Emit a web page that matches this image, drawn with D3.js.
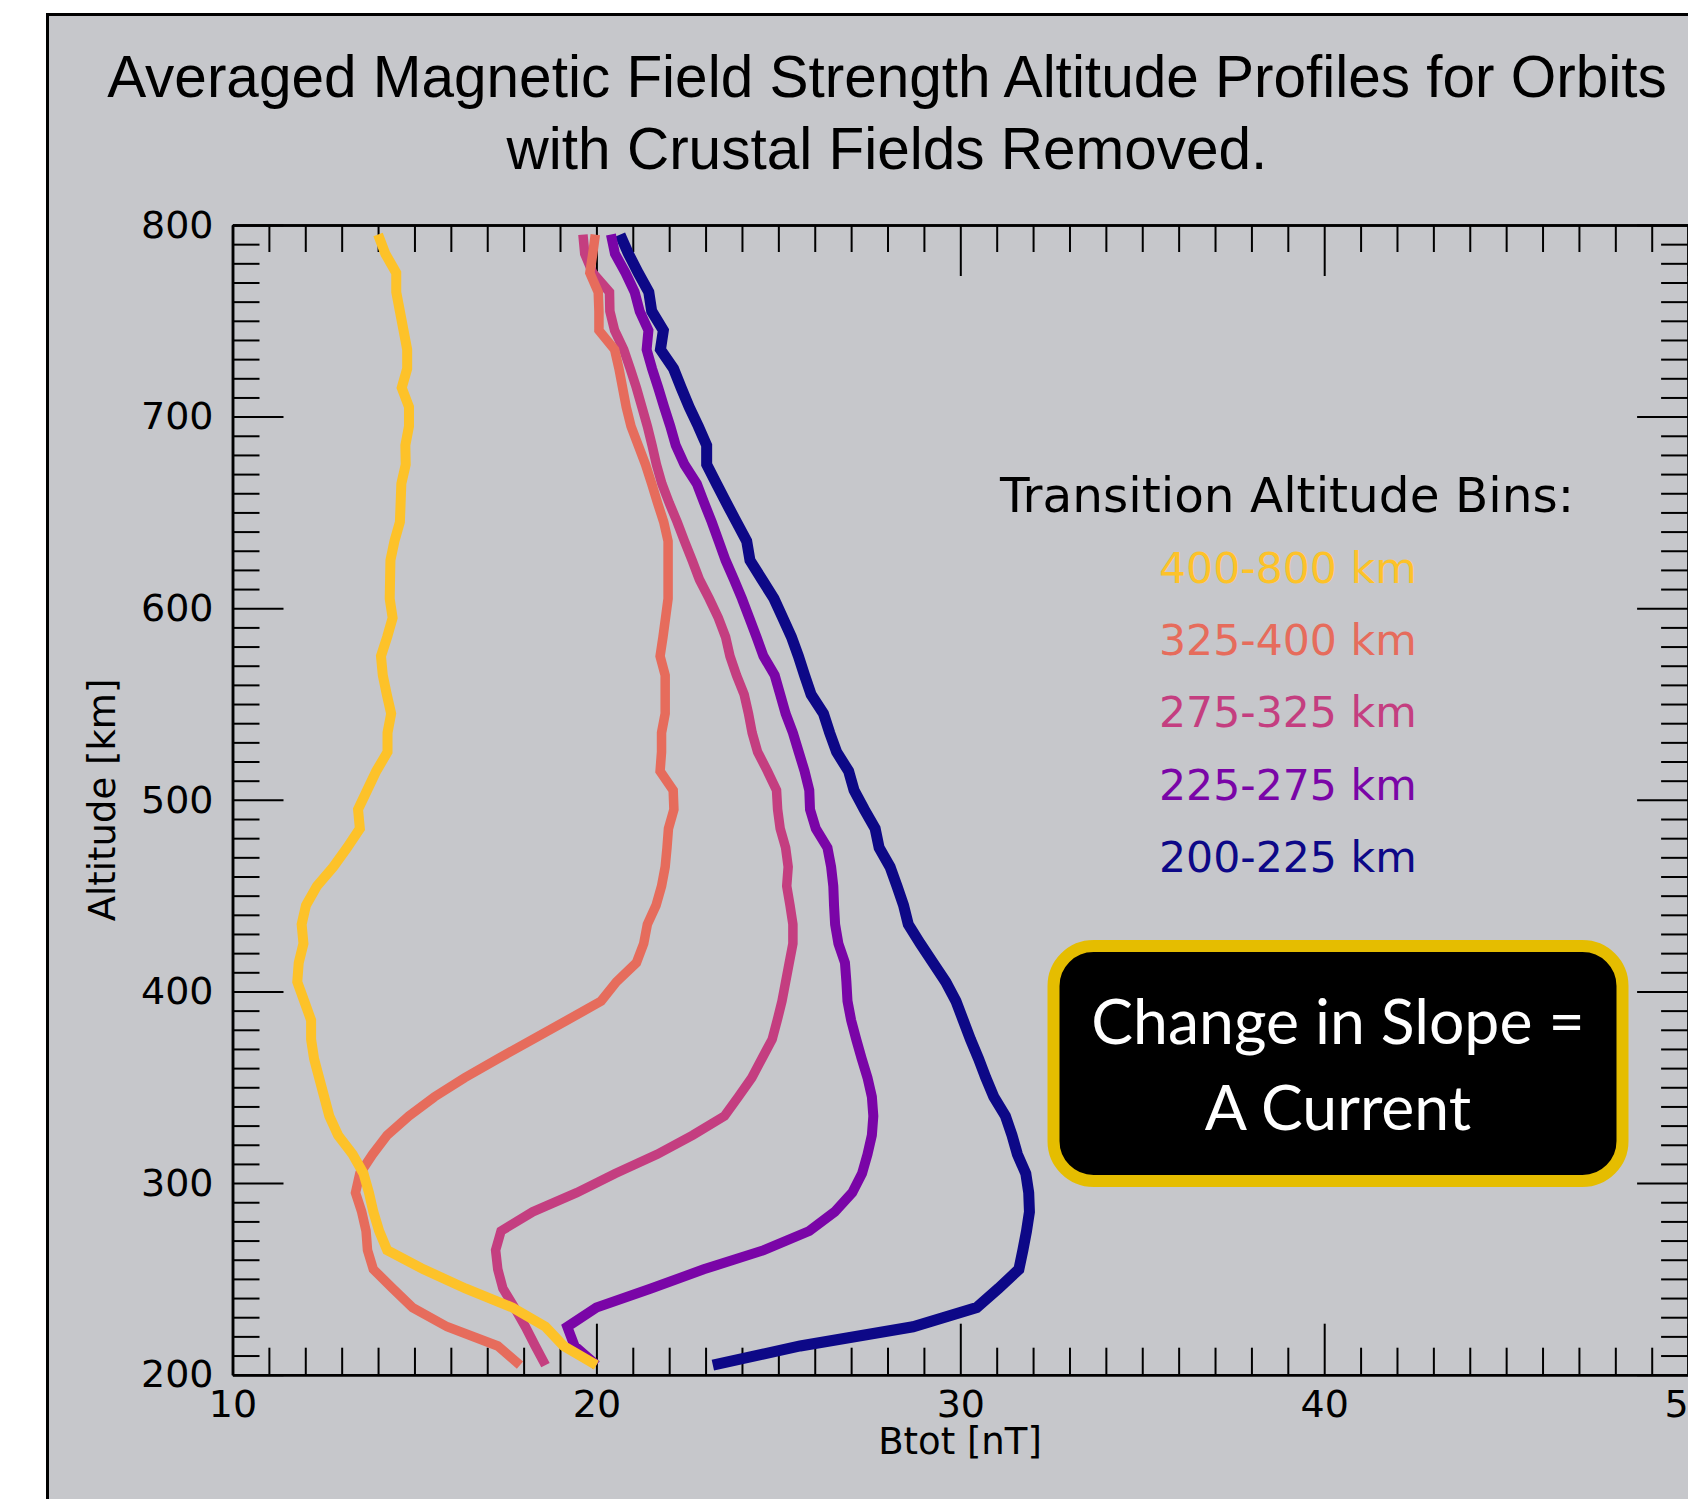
<!DOCTYPE html>
<html>
<head>
<meta charset="utf-8">
<script src="https://cdn.jsdelivr.net/npm/d3@7"></script>
<style>
  html, body { margin: 0; padding: 0; background: #ffffff; }
  svg { display: block; }
</style>
</head>
<body>
<div id="chart"></div>
<script>
// altitude samples (km), top to bottom
const altitudeKm = [795, 785, 775, 765, 755, 745, 735, 725, 715, 705, 695, 685, 675, 665, 655, 645, 635, 625, 615, 605,
  595, 585, 575, 565, 555, 545, 535, 525, 515, 505, 495, 485, 475, 465, 455, 445, 435, 425, 415, 405,
  395, 385, 375, 365, 355, 345, 335, 325, 315, 305, 295, 285, 275, 265, 255, 245, 235, 225, 215, 205];

// averaged Btot (nT) per transition altitude bin
const bin400to800 = [14.0, 14.2, 14.5, 14.5, 14.6, 14.7, 14.8, 14.8, 14.65, 14.85, 14.85, 14.75, 14.76, 14.64, 14.62, 14.6, 14.45, 14.34, 14.33, 14.32,
  14.4, 14.25, 14.08, 14.13, 14.24, 14.36, 14.26, 14.26, 13.95, 13.7, 13.45, 13.5, 13.15, 12.77, 12.32, 12.02, 11.9, 11.95, 11.82, 11.78,
  11.97, 12.16, 12.16, 12.24, 12.38, 12.52, 12.66, 12.9, 13.3, 13.6, 13.75, 13.87, 14.03, 14.25, 15.25, 16.4, 17.7, 18.6, 19.1, 20.0];
const bin325to400 = [19.97, 19.9, 19.82, 20.05, 20.07, 20.07, 20.5, 20.62, 20.72, 20.82, 20.95, 21.15, 21.35, 21.52, 21.68, 21.85, 21.97, 21.97, 21.97, 21.97,
  21.9, 21.83, 21.75, 21.89, 21.89, 21.89, 21.79, 21.79, 21.75, 22.11, 22.13, 21.98, 21.94, 21.89, 21.79, 21.64, 21.4, 21.3, 21.1, 20.55,
  20.13, 19.2, 18.25, 17.3, 16.38, 15.55, 14.85, 14.25, 13.85, 13.5, 13.38, 13.55, 13.67, 13.71, 13.87, 14.4, 14.95, 15.9, 17.29, 17.9];
const bin275to325 = [19.63, 19.68, 19.9, 20.36, 20.37, 20.5, 20.75, 20.93, 21.1, 21.25, 21.4, 21.53, 21.65, 21.8, 22.0, 22.22, 22.42, 22.63, 22.83, 23.1,
  23.35, 23.55, 23.67, 23.85, 24.06, 24.18, 24.28, 24.43, 24.7, 24.95, 24.98, 25.05, 25.2, 25.27, 25.23, 25.32, 25.4, 25.4, 25.3, 25.2,
  25.1, 24.97, 24.83, 24.55, 24.27, 23.9, 23.52, 22.65, 21.67, 20.52, 19.46, 18.25, 17.38, 17.23, 17.29, 17.43, 17.75, 18.05, 18.32, 18.6];
const bin225to275 = [20.4, 20.51, 20.8, 21.05, 21.19, 21.43, 21.38, 21.53, 21.7, 21.86, 22.03, 22.18, 22.42, 22.76, 22.96, 23.17, 23.36, 23.55, 23.78, 24.0,
  24.2, 24.4, 24.59, 24.9, 25.05, 25.2, 25.4, 25.56, 25.72, 25.85, 25.87, 26.03, 26.35, 26.45, 26.51, 26.53, 26.56, 26.65, 26.83, 26.87,
  26.9, 27.0, 27.14, 27.29, 27.45, 27.57, 27.61, 27.57, 27.45, 27.3, 27.03, 26.55, 25.85, 24.6, 22.95, 21.5, 20.0, 19.2, 19.4, 20.0];
const bin200to225 = [20.65, 20.88, 21.15, 21.44, 21.52, 21.84, 21.76, 22.12, 22.33, 22.55, 22.8, 23.03, 23.03, 23.3, 23.57, 23.85, 24.13, 24.22, 24.55, 24.88,
  25.12, 25.36, 25.55, 25.72, 25.9, 26.24, 26.41, 26.6, 26.93, 27.08, 27.36, 27.66, 27.77, 28.07, 28.26, 28.44, 28.57, 28.9, 29.25, 29.6,
  29.88, 30.08, 30.28, 30.5, 30.7, 30.92, 31.24, 31.42, 31.57, 31.8, 31.88, 31.9, 31.82, 31.72, 31.61, 31.05, 30.45, 28.7, 25.6, 23.2];

const binLabels = ['400-800 km', '325-400 km', '275-325 km', '225-275 km', '200-225 km'];
const binColors = ['#fdc229', '#e66c5c', '#c43e80', '#7a05a7', '#0d0887'];
const binWidths = [10, 9.5, 9.5, 10, 11];
const binValues = [bin400to800, bin325to400, bin275to325, bin225to275, bin200to225];

const xTicks = [10, 20, 30, 40, 50];
const yTicks = [200, 300, 400, 500, 600, 700, 800];

const titleLines = ['Averaged Magnetic Field Strength Altitude Profiles for Orbits', 'with Crustal Fields Removed.'];
const noteLines = ['Change in Slope =', 'A Current'];

const w = 1688;
const h = 1499;
const plotLeft = 232.5;
const plotRight = 1688.1;
const plotTop = 225;
const plotBottom = 1374.7;

const svg = d3
  .select('#chart')
  .append('svg')
  .attr('width', w)
  .attr('height', h);

svg.append('rect').attr('width', w).attr('height', h).attr('fill', '#ffffff');

// grey slide frame
svg
  .append('rect')
  .attr('x', 47.5)
  .attr('y', 14.5)
  .attr('width', w + 20)
  .attr('height', h + 20)
  .attr('fill', '#c6c7cb')
  .attr('stroke', '#000')
  .attr('stroke-width', 3);

// title
svg
  .selectAll('text.title')
  .data(titleLines)
  .enter()
  .append('text')
  .attr('class', 'title')
  .attr('x', 887)
  .attr('y', (d, i) => 97 + i * 72)
  .attr('text-anchor', 'middle')
  .style('font-family', '"Liberation Sans", Arial, sans-serif')
  .style('font-size', '58.5px')
  .attr('fill', '#000')
  .text((d) => d);

const xScale = d3.scaleLinear().domain([10, 50]).range([plotLeft, plotRight]);
const yScale = d3.scaleLinear().domain([200, 800]).range([plotBottom, plotTop]);

const xMinor = d3.range(11, 50).filter((v) => v % 10 !== 0);
const yMinor = d3.range(210, 800, 10).filter((v) => v % 100 !== 0);

const tickFont = '"DejaVu Sans", sans-serif';

function styleAxis(g) {
  g.selectAll('path.domain').attr('stroke', '#000').attr('stroke-width', 2.5);
  g.selectAll('.tick line').attr('stroke', '#000').attr('stroke-width', 2);
  g.selectAll('.tick text')
    .attr('fill', '#000')
    .style('font-family', tickFont)
    .style('font-size', '38px');
}

// minor ticks on all four sides
svg.append('g').attr('transform', 'translate(0,' + plotBottom + ')')
  .call(d3.axisBottom(xScale).tickValues(xMinor).tickSizeInner(-27).tickSizeOuter(0).tickFormat(''))
  .call(styleAxis);
svg.append('g').attr('transform', 'translate(0,' + plotTop + ')')
  .call(d3.axisTop(xScale).tickValues(xMinor).tickSizeInner(-27).tickSizeOuter(0).tickFormat(''))
  .call(styleAxis);
svg.append('g').attr('transform', 'translate(' + plotLeft + ',0)')
  .call(d3.axisLeft(yScale).tickValues(yMinor).tickSizeInner(-27).tickSizeOuter(0).tickFormat(''))
  .call(styleAxis);
svg.append('g').attr('transform', 'translate(' + plotRight + ',0)')
  .call(d3.axisRight(yScale).tickValues(yMinor).tickSizeInner(-27).tickSizeOuter(0).tickFormat(''))
  .call(styleAxis);

// major ticks with labels
svg.append('g').attr('id', 'x-axis').attr('transform', 'translate(0,' + plotBottom + ')')
  .call(d3.axisBottom(xScale).tickValues(xTicks).tickSizeInner(-51).tickSizeOuter(0).tickPadding(15).tickFormat(d3.format('d')))
  .call(styleAxis);
svg.append('g').attr('transform', 'translate(0,' + plotTop + ')')
  .call(d3.axisTop(xScale).tickValues(xTicks).tickSizeInner(-51).tickSizeOuter(0).tickFormat(''))
  .call(styleAxis);
svg.append('g').attr('id', 'y-axis').attr('transform', 'translate(' + plotLeft + ',0)')
  .call(d3.axisLeft(yScale).tickValues(yTicks).tickSizeInner(-51).tickSizeOuter(0).tickPadding(19).tickFormat(d3.format('d')))
  .call(styleAxis);
svg.append('g').attr('transform', 'translate(' + plotRight + ',0)')
  .call(d3.axisRight(yScale).tickValues(yTicks).tickSizeInner(-51).tickSizeOuter(0).tickFormat(''))
  .call(styleAxis);

// axis titles
svg
  .append('text')
  .attr('x', 960)
  .attr('y', 1454)
  .attr('text-anchor', 'middle')
  .style('font-family', tickFont)
  .style('font-size', '37px')
  .text('Btot [nT]');

svg
  .append('text')
  .attr('transform', 'translate(115,800) rotate(-90)')
  .attr('text-anchor', 'middle')
  .style('font-family', tickFont)
  .style('font-size', '37px')
  .text('Altitude [km]');

// profiles, drawn from the lowest bin up so the yellow one sits on top
const line = d3
  .line()
  .x((d) => xScale(d[0]))
  .y((d) => yScale(d[1]));

const order = [4, 3, 2, 1, 0];
svg
  .append('g')
  .selectAll('path')
  .data(order)
  .enter()
  .append('path')
  .attr('d', (k) => line(binValues[k].map((v, i) => [v, altitudeKm[i]])))
  .attr('fill', 'none')
  .attr('stroke', (k) => binColors[k])
  .attr('stroke-width', (k) => binWidths[k])
  .attr('stroke-linejoin', 'miter')
  .attr('stroke-linecap', 'butt');

// legend
svg
  .append('text')
  .attr('x', 1000)
  .attr('y', 512)
  .style('font-family', tickFont)
  .style('font-size', '48.5px')
  .attr('fill', '#000')
  .text('Transition Altitude Bins:');

svg
  .selectAll('text.bin')
  .data(binLabels)
  .enter()
  .append('text')
  .attr('class', 'bin')
  .attr('x', 1159)
  .attr('y', (d, i) => 583 + i * 72.2)
  .style('font-family', tickFont)
  .style('font-size', '42.6px')
  .attr('fill', (d, i) => binColors[i])
  .text((d) => d);

// annotation box
svg
  .append('rect')
  .attr('x', 1053.5)
  .attr('y', 946)
  .attr('width', 569)
  .attr('height', 235)
  .attr('rx', 40)
  .attr('ry', 40)
  .attr('fill', '#000')
  .attr('stroke', '#e5bd00')
  .attr('stroke-width', 12);

svg
  .selectAll('text.note')
  .data(noteLines)
  .enter()
  .append('text')
  .attr('class', 'note')
  .attr('x', 1338)
  .attr('y', (d, i) => 1044 + i * 86)
  .attr('text-anchor', 'middle')
  .style('font-family', 'Lato, "Open Sans", sans-serif')
  .style('font-size', '62.5px')
  .attr('fill', '#fff')
  .text((d) => d);
</script>
</body>
</html>
